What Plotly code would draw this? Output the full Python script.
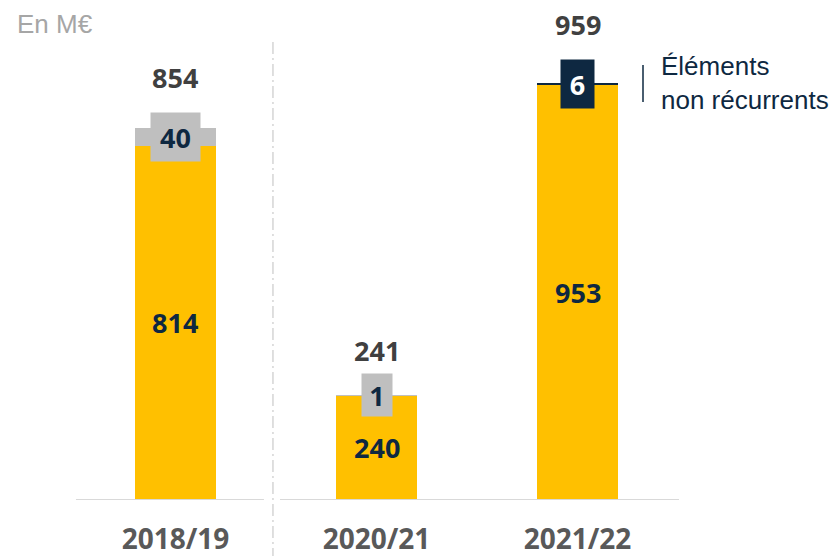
import plotly.graph_objects as go

YELLOW = "#FFC000"
GRAY = "#BFBFBF"
NAVY = "#0E2841"
TEXT_DARK = "#404040"
AXIS_TEXT = "#595959"

years = ["2018/19", "2020/21", "2021/22"]
recurring = [814, 240, 953]
non_recurring = [40, 1, 6]
non_recurring_colors = [GRAY, GRAY, NAVY]
non_recurring_text = [NAVY, NAVY, "white"]
box_widths = [49, 30, 33]
box_heights = [48, 42, 48]
total_offsets = [51, 45, 58]

xs = list(range(len(years)))
totals = [a + b for a, b in zip(recurring, non_recurring)]

fig = go.Figure()
fig.add_trace(go.Bar(x=xs, y=recurring, marker_color=YELLOW, width=0.403,
                     marker_line_width=0, hoverinfo="skip"))
fig.add_trace(go.Bar(x=xs, y=non_recurring, marker_color=non_recurring_colors, width=0.403,
                     marker_line_width=0, hoverinfo="skip"))

for x, r, n, tot, bc, tc, bw, bh, off in zip(xs, recurring, non_recurring, totals,
                                              non_recurring_colors, non_recurring_text,
                                              box_widths, box_heights, total_offsets):
    fig.add_annotation(x=x, y=r / 2, text=f"<b>{r}</b>", showarrow=False,
                       font=dict(family="Open Sans", size=27, color=NAVY))
    fig.add_annotation(x=x, y=r + n / 2, text=f"<b>{n}</b>", showarrow=False,
                       font=dict(family="Open Sans", size=27, color=tc),
                       bgcolor=bc, width=bw, height=bh, borderpad=0)
    fig.add_annotation(x=x, y=r + n, text=f"<b>{tot}</b>", showarrow=False,
                       yanchor="middle", yshift=off,
                       font=dict(family="Open Sans", size=27, color=TEXT_DARK))

# baseline split by the dashed separator
for x0, x1 in [(-0.495, 0.44), (0.52, 2.505)]:
    fig.add_shape(type="line", x0=x0, x1=x1, y0=0, y1=0,
                  line=dict(color="#D9D9D9", width=2))
fig.add_shape(type="line", x0=0.485, x1=0.485, yref="paper", y0=-0.12, y1=0.916,
              line=dict(color="#BFBFBF", width=1, dash="12px,4px,2px,4px"))

# legend marker for non-recurring items
fig.add_shape(type="line", xref="paper", yref="paper", x0=643 / 834, x1=643 / 834,
              y0=1 - 65 / 500, y1=1 - 102 / 500, line=dict(color=NAVY, width=1.5))
fig.add_annotation(xref="paper", yref="paper", x=659 / 834, y=1 - 83 / 500,
                   text="Éléments<br>non récurrents", showarrow=False,
                   xanchor="left", yanchor="middle", align="left",
                   font=dict(family="Liberation Sans", size=26, color=NAVY))
fig.add_annotation(xref="paper", yref="paper", x=15 / 834, y=1 - 24 / 500,
                   text="En M€", showarrow=False, xanchor="left", yanchor="middle",
                   font=dict(family="Liberation Sans", size=26, color="#A6A6A6"))

fig.update_layout(
    width=834,
    height=556,
    barmode="stack",
    bargap=0,
    showlegend=False,
    margin=dict(l=0, r=0, t=0, b=56),
    plot_bgcolor="white",
    paper_bgcolor="white",
    xaxis=dict(
        range=[-0.873, 3.276],
        tickvals=xs,
        ticktext=[f"<b>{y}</b>" for y in years],
        tickfont=dict(family="Open Sans", size=28, color=AXIS_TEXT),
        ticks="",
        ticklabelstandoff=20,
        automargin=False,
        showgrid=False,
        zeroline=False,
        showline=False,
    ),
    yaxis=dict(range=[0, 1149], visible=False, automargin=False),
)

fig.write_html("out.html", config={"displayModeBar": False},
               post_script="document.body.style.margin='0';")
